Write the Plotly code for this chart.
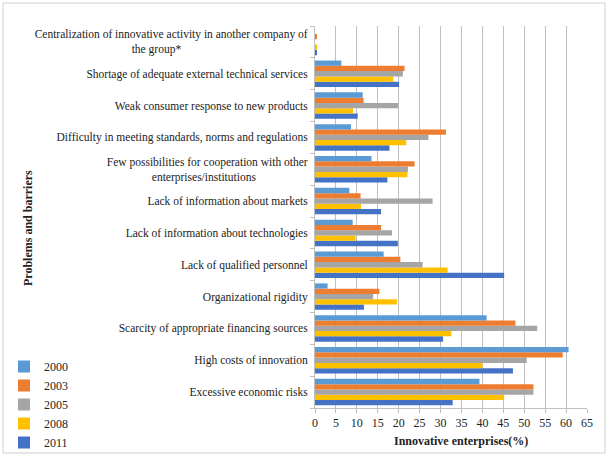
import plotly.graph_objects as go

categories = [
    "Excessive economic risks",
    "High costs of innovation",
    "Scarcity of appropriate financing sources",
    "Organizational rigidity",
    "Lack of qualified personnel",
    "Lack of information about technologies",
    "Lack of information about markets",
    "Few possibilities for cooperation with other<br>enterprises/institutions" + "\u00a0" * 18,
    "Difficulty in meeting standards, norms and regulations",
    "Weak consumer response to new products",
    "Shortage of adequate external technical services",
    "Centralization of innovative activity in another company of<br>the group*" + "\u00a0" * 44,
]

v2000 = [39.3, 60.6, 41.0, 3.0, 16.4, 9.0, 8.2, 13.5, 8.6, 11.4, 6.3, 0.0]
v2003 = [52.2, 59.2, 47.9, 15.4, 20.4, 15.8, 10.9, 23.8, 31.3, 11.6, 21.4, 0.3]
v2005 = [52.2, 50.6, 53.1, 13.9, 25.7, 18.4, 28.1, 22.2, 27.1, 19.9, 21.0, 0.0]
v2008 = [45.2, 40.0, 32.6, 19.6, 31.7, 9.7, 11.0, 22.1, 21.8, 9.1, 18.7, 0.3]
v2011 = [32.9, 47.3, 30.6, 11.7, 45.2, 19.8, 15.8, 17.3, 17.8, 10.2, 20.1, 0.4]

years = ["2000", "2003", "2005", "2008", "2011"]
series = [v2000, v2003, v2005, v2008, v2011]
colors = ["#5B9BD5", "#ED7D31", "#A5A5A5", "#FFC000", "#4472C4"]

W, H = 609, 457
L, R, T, B = 315, 22, 26, 49
PW, PH = W - L - R, H - T - B


def px(x):
    return (x - L) / PW


def py(y):
    return (H - B - y) / PH


SERIF = "Liberation Serif, Times New Roman, serif"

fig = go.Figure()
# add in reverse so 2000 is on top within each group
for name, vals, col in reversed(list(zip(years, series, colors))):
    fig.add_trace(go.Bar(
        y=categories, x=vals, name=name, orientation="h",
        marker=dict(color=col, line=dict(width=0)),
    ))

fig.update_layout(
    width=W, height=H,
    margin=dict(l=L, r=R, t=T, b=B, autoexpand=False),
    paper_bgcolor="white", plot_bgcolor="white",
    barmode="group", bargap=0.17, bargroupgap=0.0,
    font=dict(family=SERIF, size=11.5, color="black"),
    showlegend=True,
    legend=dict(
        xref="container", yref="container",
        x=4 / W, y=1 - 352 / H, xanchor="left", yanchor="top",
        traceorder="reversed",
        font=dict(family=SERIF, size=12, color="#222"),
        itemwidth=30, bgcolor="rgba(0,0,0,0)",
    ),
    xaxis=dict(
        range=[0, 65], tick0=0, dtick=5,
        showgrid=True, gridcolor="#BFBFBF", gridwidth=1,
        showline=True, linecolor="#BFBFBF", linewidth=1,
        ticks="outside", ticklen=4, tickcolor="#BFBFBF",
        tickfont=dict(family=SERIF, size=12, color="#222"),
        zeroline=False, fixedrange=True,
    ),
    yaxis=dict(
        type="category", categoryorder="array", categoryarray=categories,
        showline=True, linecolor="#BFBFBF", linewidth=1,
        ticks="outside", ticklen=4, tickcolor="#BFBFBF", tickson="boundaries",
        ticklabelstandoff=4,
        tickfont=dict(family=SERIF, size=11.5, color="#222"),
        showgrid=False, fixedrange=True,
    ),
    annotations=[
        dict(text="<b>Innovative enterprises(%)</b>", xref="paper", yref="paper",
             x=px(461), y=py(441), xanchor="center", yanchor="middle",
             showarrow=False, font=dict(family=SERIF, size=12, color="#222")),
        dict(text="<b>Problems and barriers</b>", xref="paper", yref="paper",
             x=px(28), y=py(228), xanchor="center", yanchor="middle",
             textangle=-90, showarrow=False,
             font=dict(family=SERIF, size=12, color="#222")),
    ],
    shapes=[
        dict(type="rect", xref="paper", yref="paper",
             x0=px(3), x1=px(605), y0=py(453), y1=py(3),
             line=dict(color="#D0D0D0", width=1), fillcolor="rgba(0,0,0,0)",
             layer="below"),
    ],
)

fig.write_html("out.html")
